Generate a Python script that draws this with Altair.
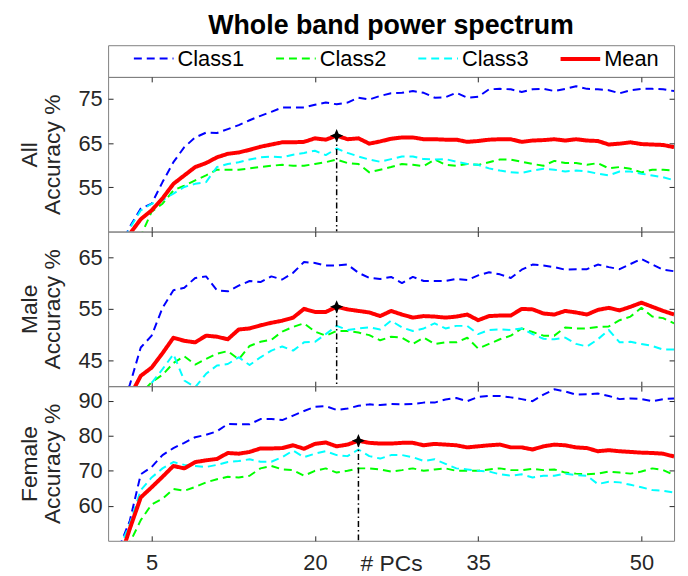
import altair as alt
import pandas as pd

FONT = "Liberation Sans"

pcs = list(range(2, 54))
series_names = ["Class1", "Class2", "Class3", "Mean"]
series_colors = ["#0000ff", "#00ff00", "#00ffff", "#ff0000"]
series_dashes = [[8, 5], [8, 5], [8, 5], [1, 0]]
series_widths = [2, 2, 2, 4]

all_class1 = [41, 46.1, 50.2, 51.3, 56.2, 60.7, 64.1, 66.3, 67.4, 67.3,
              68.2, 69.1, 70.2, 71.2, 72.1, 73.1, 73.1, 73.1, 73.7, 74.2,
              73.8, 74.2, 75.3, 74.9, 75.7, 76.3, 76.4, 76.8, 76.4, 75.3,
              75.4, 76.4, 75.3, 75.5, 77.2, 77.3, 77.2, 76.6, 77.2, 77.3,
              76.8, 77.3, 77.9, 77.3, 77.2, 77.0, 76.3, 77.0, 77.3, 77.3,
              77.2, 76.8]
all_class2 = [36, 40, 44.0, 49.5, 51.3, 54.3, 55.4, 56.6, 57.7, 59.0,
              59.0, 59.0, 59.3, 59.6, 59.9, 60.1, 59.9, 59.9, 60.3, 60.7,
              61.3, 60.5, 60.3, 58.4, 59.0, 59.6, 60.3, 60.1, 59.8, 61.3,
              60.1, 59.9, 60.3, 60.1, 60.7, 61.3, 61.3, 60.8, 60.3, 59.9,
              61.0, 60.5, 60.5, 60.1, 60.5, 59.3, 59.6, 59.2, 58.4, 59.0,
              59.0, 58.8]
all_class3 = [41, 45.8, 49.8, 51.3, 52.1, 53.6, 55.1, 55.8, 56.2, 59.6,
              60.3, 60.7, 61.3, 61.8, 62.0, 61.8, 62.4, 62.8, 63.3, 62.3,
              63.8, 62.8, 62.0, 61.3, 60.8, 61.4, 62.0, 62.0, 61.4, 61.3,
              61.4, 60.8, 60.3, 60.1, 59.3, 58.8, 58.4, 58.3, 58.8, 59.2,
              59.0, 58.6, 58.8, 58.6, 58.1, 57.7, 58.6, 58.6, 58.1, 57.7,
              57.3, 56.6]
all_mean = [40, 44.5, 47.8, 49.8, 52.5, 55.8, 57.7, 59.6, 60.5, 61.8,
            62.6, 62.9, 63.5, 64.2, 64.7, 65.2, 65.2, 65.3, 66.1, 65.8,
            66.7, 65.9, 66.1, 64.9, 65.4, 66.0, 66.3, 66.3, 65.9, 65.9,
            65.8, 65.8, 65.3, 65.5, 65.8, 65.9, 65.9, 65.3, 65.6, 65.7,
            65.9, 65.6, 65.9, 65.6, 65.5, 64.7, 64.9, 65.2, 64.8, 64.7,
            64.6, 64.1]

male_class1 = [35, 40.3, 47.5, 49.8, 55.2, 58.6, 59.1, 61.0, 61.3, 58.6,
               58.4, 59.5, 60.4, 60.2, 61.3, 60.7, 62.0, 64.1, 63.9, 63.4,
               63.4, 63.6, 62.0, 61.0, 60.8, 61.2, 60.0, 61.2, 60.4, 60.4,
               60.4, 60.8, 60.6, 61.5, 62.1, 61.7, 61.0, 62.6, 63.6, 63.4,
               63.1, 62.6, 62.7, 62.7, 63.6, 63.1, 62.7, 63.7, 64.7, 63.6,
               62.6, 62.3]
male_class2 = [34, 36, 38.5, 40.8, 42.2, 44.5, 45.8, 44.2, 45.3, 46.3,
               46.8, 45.2, 47.8, 48.6, 49.0, 50.6, 51.5, 52.2, 50.6, 49.8,
               50.7, 50.7, 50.4, 49.9, 48.9, 49.6, 49.4, 48.2, 49.4, 48.2,
               48.5, 48.5, 49.4, 47.3, 48.2, 49.1, 49.8, 51.2, 50.5, 49.8,
               49.8, 51.4, 51.2, 51.2, 51.5, 51.6, 52.8, 53.5, 55.2, 53.5,
               53.2, 52.2]
male_class3 = [33, 35, 38.5, 40.6, 43.3, 46.2, 41.1, 39.8, 42.4, 44.0,
               44.3, 45.6, 44.1, 45.6, 46.9, 47.7, 46.9, 48.5, 48.6, 50.1,
               51.7, 50.9, 51.2, 51.4, 51.0, 52.7, 51.4, 50.7, 51.2, 52.2,
               51.2, 51.7, 51.7, 50.1, 50.9, 51.0, 50.9, 51.2, 50.1, 49.2,
               49.1, 49.4, 48.2, 47.7, 49.1, 50.9, 48.5, 48.6, 48.2, 47.8,
               47.1, 47.1]
male_mean = [35, 38, 42.0, 43.6, 46.4, 49.4, 48.8, 48.5, 49.8, 49.6,
             49.1, 51.0, 51.2, 51.8, 52.3, 52.7, 53.3, 55.0, 54.4, 54.4,
             55.4, 54.9, 54.6, 54.3, 53.6, 54.6, 53.9, 53.3, 53.6, 53.5,
             53.3, 53.5, 53.9, 52.8, 53.6, 53.7, 53.7, 55.0, 54.9, 54.1,
             53.9, 54.6, 54.3, 53.9, 54.8, 55.2, 54.7, 55.4, 56.2, 55.4,
             54.6, 53.9]

female_class1 = [48, 55.8, 69.0, 71.1, 74.5, 76.5, 78.0, 79.6, 80.3, 81.3,
                 83.4, 83.3, 83.3, 84.8, 84.8, 84.5, 85.8, 87.1, 88.3, 88.5,
                 87.4, 87.8, 88.6, 89.0, 88.8, 89.1, 89.0, 89.1, 89.5, 89.5,
                 90.4, 90.8, 89.9, 91.1, 91.4, 91.4, 91.0, 90.5, 89.9, 91.8,
                 93.3, 92.7, 91.8, 91.9, 92.1, 91.4, 90.5, 90.7, 90.5, 89.9,
                 90.5, 90.7]
female_class2 = [45, 49.5, 55.9, 60.4, 62.0, 64.8, 64.3, 65.4, 66.7, 67.6,
                 68.3, 68.1, 68.6, 70.7, 71.4, 70.4, 70.2, 68.6, 70.0, 70.7,
                 69.5, 70.0, 70.7, 70.7, 70.4, 69.8, 70.2, 70.7, 70.0, 70.4,
                 70.7, 70.0, 70.0, 70.0, 70.4, 70.7, 70.2, 70.2, 70.6, 70.2,
                 70.4, 69.5, 69.2, 69.0, 69.2, 69.8, 69.5, 69.2, 69.8, 70.7,
                 70.2, 68.8]
female_class3 = [47.5, 54.9, 64.5, 68.1, 70.7, 72.5, 71.7, 71.4, 71.1, 71.7,
                 72.5, 72.8, 73.3, 72.6, 72.6, 73.9, 75.8, 73.9, 74.9, 75.6,
                 74.5, 74.2, 76.1, 74.2, 73.5, 74.5, 74.5, 73.9, 72.8, 73.3,
                 72.0, 70.7, 70.4, 70.0, 69.8, 69.0, 68.6, 69.0, 68.1, 68.6,
                 68.6, 69.2, 68.8, 68.6, 66.2, 66.9, 66.7, 66.0, 65.3, 64.5,
                 64.3, 63.8]
female_mean = [44, 53.5, 62.4, 65.3, 68.3, 71.4, 70.7, 72.5, 73.0, 73.4,
               75.1, 74.9, 75.4, 76.4, 76.4, 76.5, 77.3, 76.3, 77.7, 78.1,
               77.0, 77.5, 78.6, 78.0, 77.8, 77.8, 78.0, 78.0, 77.3, 77.7,
               77.5, 77.3, 76.7, 77.0, 77.3, 77.5, 76.7, 76.7, 76.1, 77.0,
               77.5, 77.3, 76.7, 76.5, 75.6, 75.9, 75.6, 75.4, 75.2, 75.1,
               74.9, 74.1]

panel_labels = ["All", "Male", "Female"]
panel_series = [
    [all_class1, all_class2, all_class3, all_mean],
    [male_class1, male_class2, male_class3, male_mean],
    [female_class1, female_class2, female_class3, female_mean],
]
y_domains = [[45, 80], [40, 70], [50, 94.2]]
y_ticks = [[55, 65, 75], [45, 55, 65], [60, 70, 80, 90]]
x_ticks = [5, 20, 35, 50]
x_domain = [1, 53]
best_pcs = [22, 22, 24]

W, H, LEG_H = 571, 156, 32
STAR = "M0,-1L0.3,-0.3L1,0L0.3,0.3L0,1L-0.3,0.3L-1,0L-0.3,-0.3Z"

legend = alt.Legend(
    orient="none", legendX=24, legendY=-8, direction="horizontal", columns=4,
    title=None, symbolType="stroke", symbolSize=1600, labelFontSize=22,
    labelFont=FONT, labelColor="#000000", columnPadding=23.5, labelOffset=2,
    gridAlign="all", padding=0,
)


def make_panel(i):
    rows = []
    for name, vals in zip(series_names, panel_series[i]):
        for x, v in zip(pcs, vals):
            rows.append({"pcs": x, "acc": v, "series": name})
    df = pd.DataFrame(rows)
    best = best_pcs[i]
    mean_vals = panel_series[i][3]
    mk = pd.DataFrame({"pcs": [best], "acc": [mean_vals[pcs.index(best)]],
                       "base": [y_domains[i][0]]})
    xs = alt.Scale(domain=x_domain, nice=False, zero=False)
    ys = alt.Scale(domain=y_domains[i], nice=False, zero=False)
    if i == 2:
        x_axis_main = alt.Axis(orient="bottom", values=x_ticks, ticks=False, tickSize=0,
                               domain=False, grid=False, labelPadding=12, title="# PCs",
                               titleY=12, titleFontSize=23, labelFontSize=22)
    else:
        x_axis_main = None
    lines = alt.Chart(df).mark_line(clip=True, strokeJoin="round").encode(
        x=alt.X("pcs:Q", scale=xs, axis=x_axis_main),
        y=alt.Y("acc:Q", scale=ys, axis=alt.Axis(
            orient="left", values=y_ticks[i], ticks=False, tickSize=0, domain=False,
            grid=False, labelPadding=6, title=[panel_labels[i], "Accuracy %"],
            titlePadding=14, titleLineHeight=23)),
        color=alt.Color("series:N", scale=alt.Scale(domain=series_names, range=series_colors), legend=legend),
        strokeDash=alt.StrokeDash("series:N", scale=alt.Scale(domain=series_names, range=series_dashes), legend=legend),
        strokeWidth=alt.StrokeWidth("series:N", scale=alt.Scale(type="ordinal", domain=series_names, range=series_widths), legend=legend),
    )
    rule = alt.Chart(mk).mark_rule(color="black", strokeDash=[6, 3, 1.5, 3], strokeWidth=1.5).encode(
        x=alt.X("pcs:Q", scale=xs, axis=alt.Axis(orient="bottom", offset=-H, values=x_ticks, labels=False,
                                                 tickSize=5, domain=False, grid=False, title=None)),
        y=alt.Y("acc:Q", scale=ys, axis=alt.Axis(orient="left", offset=-W, values=y_ticks[i], labels=False,
                                                 tickSize=5, domain=False, grid=False, title=None)),
        y2="base:Q",
    )
    star = alt.Chart(mk).mark_point(shape=STAR, filled=True, color="black", size=180, opacity=1).encode(
        x=alt.X("pcs:Q", scale=xs, axis=alt.Axis(orient="top", offset=-H, values=x_ticks, labels=False,
                                                 tickSize=5, domain=False, grid=False, title=None)),
        y=alt.Y("acc:Q", scale=ys, axis=alt.Axis(orient="right", offset=-W, values=y_ticks[i], labels=False,
                                                 tickSize=5, domain=False, grid=False, title=None)),
    )
    return alt.layer(lines, rule, star).resolve_axis(x="independent", y="independent").properties(width=W, height=H)


legend_panel = alt.Chart(pd.DataFrame({"series": series_names})).mark_point(opacity=0).encode(
    x=alt.value(0), y=alt.value(0)
).properties(
    width=W, height=LEG_H,
    title=alt.TitleParams("Whole band power spectrum", anchor="middle", frame="group", fontSize=27,
                          fontWeight="bold", font=FONT, color="#000000", offset=3),
)

chart = alt.vconcat(legend_panel, make_panel(0), make_panel(1), make_panel(2),
                    spacing=0, bounds="flush").properties(
    padding={"left": 10, "top": 0, "right": 5, "bottom": 0}
).configure_view(stroke="#808080", strokeWidth=1).configure_axis(
    labelFont=FONT, titleFont=FONT, labelFontSize=22, titleFontSize=23,
    labelColor="#262626", titleColor="#262626", titleFontWeight="normal",
    tickColor="#262626", tickWidth=1,
)

chart.save("out.html", embed_options={"renderer": "svg", "actions": False})
